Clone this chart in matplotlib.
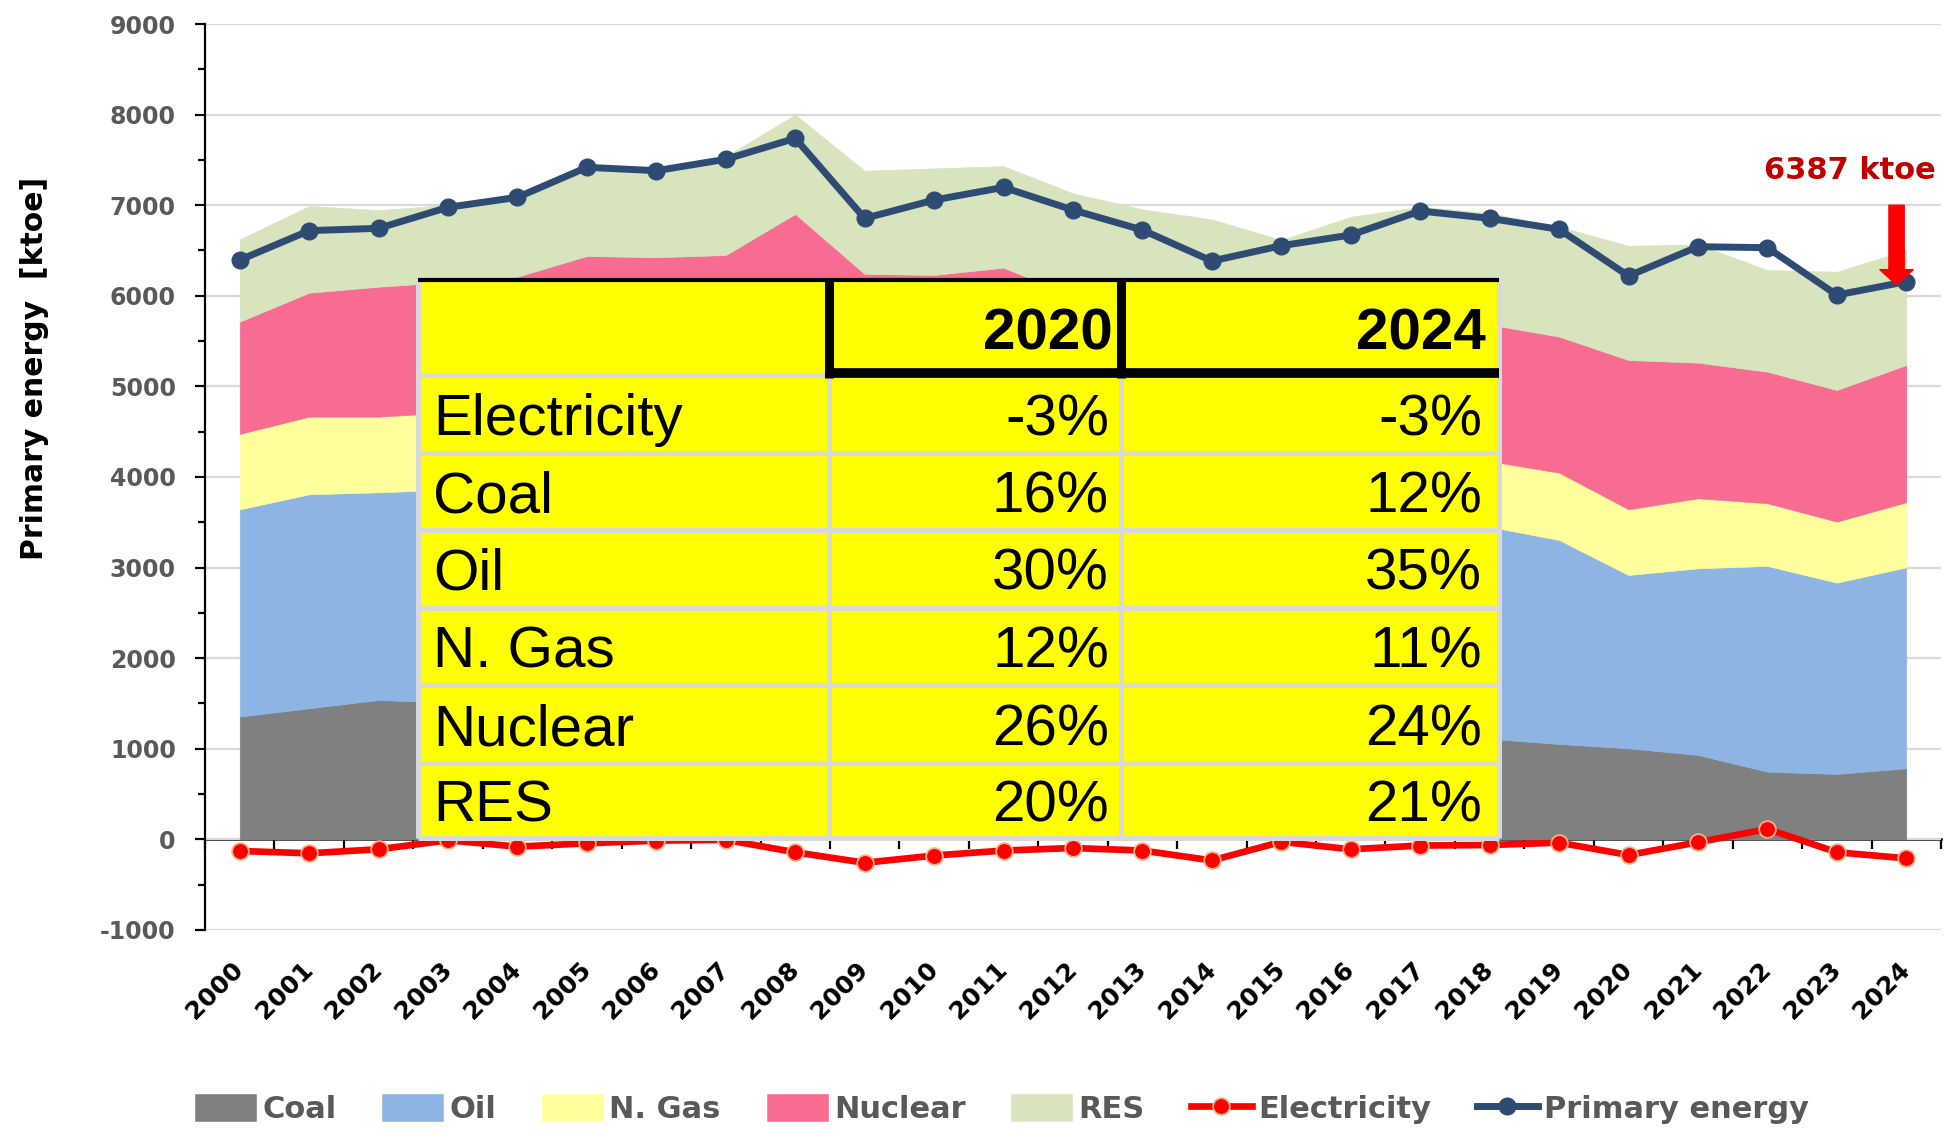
import matplotlib
matplotlib.use("Agg")
import matplotlib.pyplot as plt
import numpy as np
from matplotlib.patches import Rectangle
from matplotlib.ticker import MultipleLocator

plt.rcParams["axes.unicode_minus"] = False

# ---------------- data ----------------
years = [str(y) for y in range(2000, 2025)]
coal = [1355, 1447, 1539, 1510, 1480, 1450, 1400, 1380, 1350, 1250, 1200, 1230, 1150,
        1120, 1100, 1180, 1130, 1150, 1110, 1053, 1005, 932, 747, 722, 785]
oil = [2288, 2362, 2292, 2350, 2400, 2500, 2500, 2550, 2500, 2400, 2350, 2250, 2200,
       2150, 2100, 2100, 2200, 2250, 2340, 2252, 1913, 2060, 2271, 2111, 2218]
gas = [832, 857, 835, 850, 870, 900, 920, 950, 960, 900, 880, 860, 800,
       760, 700, 720, 750, 740, 724, 743, 725, 773, 692, 674, 718]
nuclear = [1239, 1368, 1434, 1440, 1461, 1589, 1605, 1570, 2093, 1691, 1800, 1970, 1850,
           1870, 1850, 1700, 1670, 1660, 1509, 1501, 1648, 1497, 1452, 1453, 1515]
res = [909, 957, 847, 852, 923, 986, 975, 1090, 1097, 1140, 1177, 1122, 1131,
       1055, 1094, 916, 1123, 1183, 1232, 1214, 1262, 1306, 1123, 1306, 1269]
primary = [6395, 6719, 6745, 6977, 7087, 7418, 7381, 7507, 7738, 6855, 7057, 7197, 6947,
           6726, 6384, 6553, 6671, 6936, 6855, 6734, 6219, 6542, 6531, 6009, 6156]
electricity = [-128, -153, -109, -10, -80, -43, -14, -5, -142, -258, -178, -123, -95,
               -123, -232, -27, -109, -68, -62, -36, -172, -32, 115, -142, -209]

series_names = ["Coal", "Oil", "N. Gas", "Nuclear", "RES"]
series_colors = ["#808080", "#8EB4E3", "#FFFF9B", "#F76C90", "#D7E4BD"]

table_rows = ["Electricity", "Coal", "Oil", "N. Gas", "Nuclear", "RES"]
table_years = ["2020", "2024"]
share_2020 = [-3, 16, 30, 12, 26, 20]
share_2024 = [-3, 12, 35, 11, 24, 21]

annot_text = "6387 ktoe"

# ---------------- figure ----------------
W, H = 1944, 1130
fig = plt.figure(figsize=(W / 100, H / 100), dpi=100)
ax = fig.add_axes([205 / W, 1 - 930 / H, 1736 / W, 906 / H])

x = np.arange(len(years))
polys = ax.stackplot(x, coal, oil, gas, nuclear, res, colors=series_colors,
                     labels=series_names, edgecolor="face", linewidth=0.4, zorder=2)

l_el, = ax.plot(x, electricity, color="#FF0000", lw=4.8, marker="o", ms=12,
                mfc="#FF0000", mec="#F4B183", mew=1.3, zorder=4, label="Electricity")
l_pe, = ax.plot(x, primary, color="#2E4C73", lw=5, marker="o", ms=12,
                mfc="#2E4C73", mec="#2E4C73", zorder=5, label="Primary energy")

ax.set_xlim(-0.5, 24.5)
ax.set_ylim(-1000, 9000)
ax.set_yticks(np.arange(-1000, 9001, 1000))
ax.yaxis.set_minor_locator(MultipleLocator(500))
ax.yaxis.grid(True, which="major", color="#D9D9D9", lw=1.6)
ax.set_axisbelow(True)

for s in ["top", "right", "bottom"]:
    ax.spines[s].set_visible(False)
ax.spines["left"].set_linewidth(1.6)

ax.tick_params(axis="y", which="major", length=7, width=1.6, labelsize=17,
               labelcolor="#595959", pad=14)
ax.tick_params(axis="y", which="minor", length=5, width=1.6)
for lbl in ax.get_yticklabels():
    lbl.set_fontweight("bold")

ax.set_xticks(x)
ax.set_xticklabels(years, rotation=45, ha="right", va="center",
                   rotation_mode="anchor", fontsize=18, fontweight="bold", color="black")
ax.tick_params(axis="x", length=0, pad=26)

# zero line with category-boundary ticks
sec = ax.secondary_xaxis(0.1)
sec.set_xticks(np.arange(-0.5, 25, 1))
sec.tick_params(axis="x", direction="out", length=7, width=1.6, labelbottom=False,
                labeltop=False)
sec.spines["bottom"].set_linewidth(1.8)
sec.spines["bottom"].set_visible(True)

fig.text(35 / W, 1 - 368 / H, "Primary energy  [ktoe]", rotation=90,
         ha="center", va="center", fontsize=21.5, fontweight="bold")

# annotation
ax.text(23.19, 7388, annot_text, color="#C00000", fontsize=22, fontweight="bold",
        ha="center", va="center")
ax.annotate("", xy=(23.86, 6120), xytext=(23.86, 7000),
            arrowprops=dict(arrowstyle="simple,head_length=1.1,head_width=2.4,tail_width=1.1",
                            color="#FF0000", shrinkA=0, shrinkB=0, mutation_scale=10),
            zorder=6)

# legend
handles = list(polys) + [l_el, l_pe]
labels = series_names + ["Electricity", "Primary energy"]
leg = fig.legend(handles, labels, loc="center", bbox_to_anchor=(1002 / W, 1 - 1109 / H),
                 ncol=7, frameon=False, prop=dict(size=22, weight="bold"),
                 handlelength=2.0, handleheight=0.95, handletextpad=0.2,
                 columnspacing=1.5, borderaxespad=0)
for t in leg.get_texts():
    t.set_color("#595959")

# ---------------- table overlay ----------------
tax = fig.add_axes([0, 0, 1, 1], zorder=10)
tax.set_xlim(0, W)
tax.set_ylim(H, 0)
tax.axis("off")
tax.patch.set_alpha(0)

col_x = [418, 829, 1121, 1499]
row_y = [278, 375, 453, 530, 608, 685, 763, 838]
grey = "#D9D9D9"

tax.add_patch(Rectangle((col_x[0], row_y[0]), col_x[-1] - col_x[0], row_y[-1] - row_y[0],
                        fc="#FFFF00", ec="none"))
for yy in row_y[1:]:
    tax.plot([col_x[0], col_x[-1]], [yy, yy], color=grey, lw=3.6, solid_capstyle="butt")
for xx in col_x:
    tax.plot([xx, xx], [row_y[0], row_y[-1]], color=grey, lw=3.6, solid_capstyle="butt")
# black borders
tax.plot([col_x[0], col_x[-1]], [row_y[0] + 2, row_y[0] + 2], color="black", lw=3,
         solid_capstyle="butt")
for xx in col_x[1:3]:
    tax.plot([xx, xx], [row_y[0], row_y[1] + 3], color="black", lw=6.5, solid_capstyle="butt")
tax.plot([col_x[1] - 4, col_x[-1]], [row_y[1] - 2, row_y[1] - 2], color="black", lw=7,
         solid_capstyle="butt")

fam = ["Liberation Sans", "DejaVu Sans"]
fs = 42
tax.text(1113, 349, table_years[0], ha="right", va="baseline", fontsize=fs,
         fontweight="bold", family=fam)
tax.text(1486, 349, table_years[1], ha="right", va="baseline", fontsize=fs,
         fontweight="bold", family=fam)
for i, name in enumerate(table_rows):
    yc = (row_y[i + 1] + row_y[i + 2]) / 2 + 21
    tax.text(433, yc, name, ha="left", va="baseline", fontsize=fs, family=fam)
    tax.text(1109, yc, f"{share_2020[i]}%", ha="right", va="baseline", fontsize=fs, family=fam)
    tax.text(1482, yc, f"{share_2024[i]}%", ha="right", va="baseline", fontsize=fs, family=fam)

fig.savefig("out.png", dpi=100)
